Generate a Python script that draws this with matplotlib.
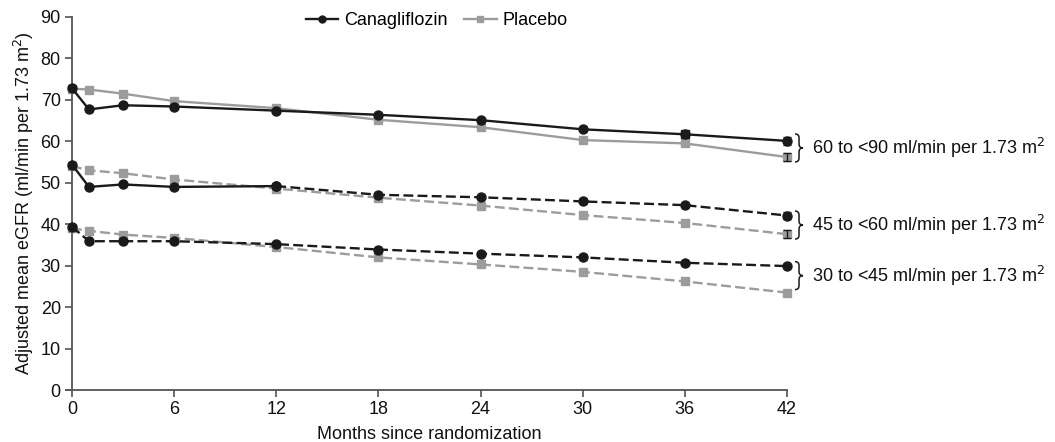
import matplotlib
matplotlib.use("Agg")
import matplotlib.pyplot as plt
from matplotlib.lines import Line2D
from matplotlib.path import Path
from matplotlib.patches import PathPatch
from matplotlib.transforms import IdentityTransform

plt.rcParams['font.family'] = ['Liberation Sans', 'DejaVu Sans']

months = [0, 1, 3, 6, 12, 18, 24, 30, 36, 42]

cana_60_90 = [72.8, 67.7, 68.7, 68.4, 67.4, 66.4, 65.1, 62.9, 61.7, 60.1]
plac_60_90 = [72.7, 72.5, 71.5, 69.7, 68.0, 65.2, 63.4, 60.3, 59.5, 56.2]
cana_45_60 = [54.4, 49.0, 49.6, 49.0, 49.2, 47.1, 46.5, 45.5, 44.6, 42.1]
plac_45_60 = [54.0, 53.0, 52.3, 50.8, 48.6, 46.4, 44.5, 42.2, 40.3, 37.6]
cana_30_45 = [39.4, 35.9, 35.9, 35.9, 35.2, 33.9, 32.9, 32.0, 30.7, 29.9]
plac_30_45 = [39.0, 38.4, 37.5, 36.7, 34.5, 32.0, 30.3, 28.5, 26.2, 23.5]

err_42 = {"cana_60_90": 0.9, "plac_60_90": 0.9, "cana_45_60": 0.9, "plac_45_60": 0.9}

group_labels = ["60 to <90 ml/min per 1.73 m$^2$",
                "45 to <60 ml/min per 1.73 m$^2$",
                "30 to <45 ml/min per 1.73 m$^2$"]
group_label_y = [58.4, 39.8, 27.6]

xticks = [0, 6, 12, 18, 24, 30, 36, 42]
yticks = [0, 10, 20, 30, 40, 50, 60, 70, 80, 90]

BLACK = '#1a1a1a'
GRAY = '#9c9c9c'
LW = 1.7
MS_C = 6.5
MS_S = 6.2
DASH = (4.2, 1.8)
FS = 13

fig = plt.figure(figsize=(10.55, 4.42), dpi=100)
ax = fig.add_axes([0.0682, 0.1176, 0.6778, 0.844])


def series(y, color, marker, ms, dashed=False, zorder=3):
    kw = dict(color=color, lw=LW, marker=marker, ms=ms, mec=color, mfc=color,
              zorder=zorder, clip_on=False)
    ln, = ax.plot(months, y, **kw)
    if dashed:
        ln.set_dashes(DASH)
    return ln


# placebo first (beneath)
series(plac_60_90, GRAY, 's', MS_S)
series(plac_45_60, GRAY, 's', MS_S, dashed=True)
series(plac_30_45, GRAY, 's', MS_S, dashed=True)

# canagliflozin
series(cana_60_90, BLACK, 'o', MS_C, zorder=4)
# middle group: solid through 12 months, dashed afterwards
i12 = months.index(12)
ax.plot(months[:i12 + 1], cana_45_60[:i12 + 1], color=BLACK, lw=LW, marker='o',
        ms=MS_C, zorder=4, clip_on=False)
ln, = ax.plot(months[i12:], cana_45_60[i12:], color=BLACK, lw=LW, marker='o',
              ms=MS_C, zorder=4, clip_on=False)
ln.set_dashes(DASH)
series(cana_30_45, BLACK, 'o', MS_C, dashed=True, zorder=4)
# square marker at 36 months on upper canagliflozin line
i36 = months.index(36)
ax.plot([months[i36]], [cana_60_90[i36]], 's', color=BLACK, ms=MS_S, zorder=5)

# error bars at 42 months
for y, key in [(cana_60_90[-1], "cana_60_90"), (plac_60_90[-1], "plac_60_90"),
               (cana_45_60[-1], "cana_45_60"), (plac_45_60[-1], "plac_45_60")]:
    ax.errorbar([42], [y], yerr=err_42[key], fmt='none', ecolor=BLACK, elinewidth=1.0,
                capsize=3, capthick=1.0, zorder=6, clip_on=False)

ax.set_xlim(0, 42)
ax.set_ylim(0, 90)
ax.set_xticks(xticks)
ax.set_yticks(yticks)
ax.tick_params(axis='both', labelsize=FS, direction='out', length=5, width=1.1,
               color='#444444', labelcolor='#111111', pad=3)
for s in ['top', 'right']:
    ax.spines[s].set_visible(False)
for s in ['left', 'bottom']:
    ax.spines[s].set_color('#555555')
    ax.spines[s].set_linewidth(1.3)
ax.spines['bottom'].set_bounds(-0.35, 42)

ax.set_xlabel("Months since randomization", fontsize=FS, labelpad=6, color='#111111')
ax.set_ylabel("Adjusted mean eGFR (ml/min per 1.73 m$^2$)", fontsize=FS, labelpad=3,
              color='#111111')

# group braces & labels (brace drawn in pixel units)
fig.canvas.draw()
x_px0 = ax.transData.transform((42, 0))[0] + 8
half_h = 14.0
w = 8.0
r = 4.0
for lab, y in zip(group_labels, group_label_y):
    ym = ax.transData.transform((42, y))[1]
    top, bot = ym + half_h, ym - half_h
    x0 = x_px0
    xm = x0 + w / 2
    verts = [(x0, top), (xm, top), (xm, top - r),
             (xm, ym + r), (xm, ym), (x0 + w, ym),
             (xm, ym), (xm, ym - r),
             (xm, bot + r), (xm, bot), (x0, bot)]
    codes = [Path.MOVETO, Path.CURVE3, Path.CURVE3,
             Path.LINETO, Path.CURVE3, Path.CURVE3,
             Path.CURVE3, Path.CURVE3,
             Path.LINETO, Path.CURVE3, Path.CURVE3]
    patch = PathPatch(Path(verts, codes), fill=False, lw=1.1, edgecolor=BLACK,
                      transform=IdentityTransform(), clip_on=False)
    fig.add_artist(patch)
    ax.text(43.45, y, lab, fontsize=FS, va='center', ha='left', color='#111111',
            clip_on=False)

handles = [Line2D([], [], color=BLACK, lw=LW, marker='o', ms=5),
           Line2D([], [], color=GRAY, lw=LW, marker='s', ms=5)]
fig.legend(handles, ["Canagliflozin", "Placebo"], loc='center',
           bbox_to_anchor=(0.414, 0.953), ncol=2, frameon=False, fontsize=FS,
           handlelength=1.8, handletextpad=0.35, columnspacing=0.9)

fig.savefig("out.png", dpi=100)
